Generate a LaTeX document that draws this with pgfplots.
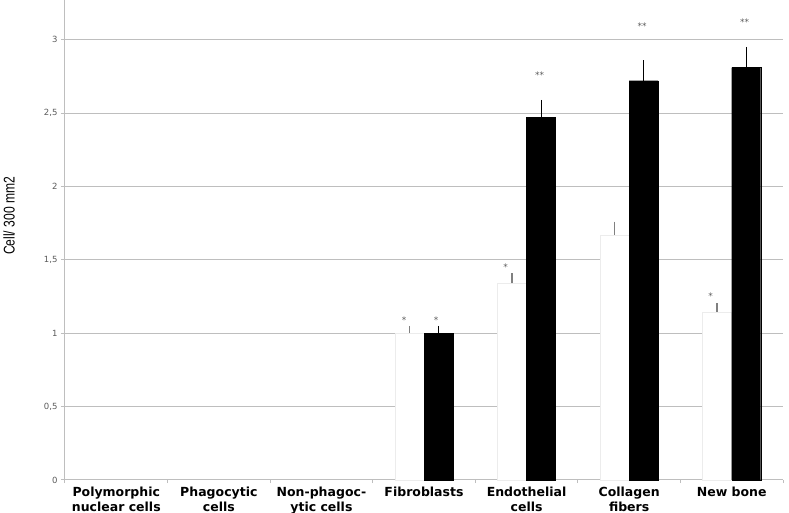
\documentclass[border=0pt]{standalone}
\usepackage{pgfplots}
\pgfplotsset{compat=1.18}
\usepackage{fontspec}
\setmainfont{DejaVu Sans}
\newfontfamily\labelfont{Liberation Sans}
\definecolor{gridgray}{RGB}{190,190,190}
\definecolor{ticktext}{RGB}{90,90,90}

\begin{document}
\begin{tikzpicture}
\useasboundingbox (-65pt,-33pt) rectangle (724pt,480pt);
\begin{axis}[
    scale only axis,
    width=718pt, height=480pt,
    xmin=-0.5, xmax=6.5,
    ymin=0, ymax=3.27,
    ybar=0pt, bar width=29pt,
    axis x line*=bottom, axis y line*=left,
    axis line style={gridgray, line width=1pt},
    ymajorgrids, grid style={gridgray, line width=1pt},
    ytick={0,0.5,...,3},
    yticklabel style={font=\fontsize{8.5}{9}\selectfont, text=ticktext},
    /pgf/number format/use comma,
    /pgf/number format/assume math mode=true,
    tick align=outside,
    major tick length=4pt,
    y tick style={gridgray, line width=1pt},
    xtick={0,...,6},
    x tick style={draw=none},
    xticklabels={Polymorphic\\nuclear cells, Phagocytic\\cells, Non-phagoc-\\ytic cells, Fibroblasts, Endothelial\\cells, Collagen\\fibers, New bone},
    xticklabel style={font=\bfseries\fontsize{12.5}{15.5}\selectfont, align=center, yshift=1pt},
    extra x ticks={-0.5,0.5,...,6.5},
    extra x tick labels={},
    extra x tick style={x tick style={gridgray, line width=1pt, draw=gridgray}, major tick length=3pt, grid=none},
    ylabel={\scalebox{0.78}[1]{\labelfont\fontsize{15.5}{17}\selectfont Cell/ 300 mm2}},
    ylabel style={at={(rel axis cs:-0.078,0.55)}, anchor=center},
    clip=false,
  ]
  \addplot+[fill=white, draw=gray!15, line width=0.6pt,
    error bars/.cd, y dir=plus, y explicit,
    error bar style={gray, line width=1.6pt}, error mark=none]
    coordinates {(3,1.00) +- (0,0.05) (4,1.34) +- (0,0.07) (5,1.67) +- (0,0.09) (6,1.145) +- (0,0.06)};
  \addplot+[fill=black, draw=black,
    error bars/.cd, y dir=plus, y explicit,
    error bar style={black, line width=1pt}, error mark=none]
    coordinates {(3,1.00) +- (0,0.05) (4,2.47) +- (0,0.12) (5,2.72) +- (0,0.14) (6,2.81) +- (0,0.14)};

  \begin{scope}[every node/.style={font=\fontsize{9}{9}\selectfont, text=ticktext}]
  \node at (axis cs:3,1.09) [xshift=-20pt] {*};
  \node at (axis cs:3,1.09) [xshift=12pt] {*};
  \node at (axis cs:4,1.45) [xshift=-21pt] {*};
  \node at (axis cs:4,2.76) [xshift=13pt] {**};
  \node at (axis cs:5,3.09) [xshift=13pt] {**};
  \node at (axis cs:6,1.25) [xshift=-21pt] {*};
  \node at (axis cs:6,3.12) [xshift=13pt] {**};
  \end{scope}
\end{axis}
\end{tikzpicture}
\end{document}
